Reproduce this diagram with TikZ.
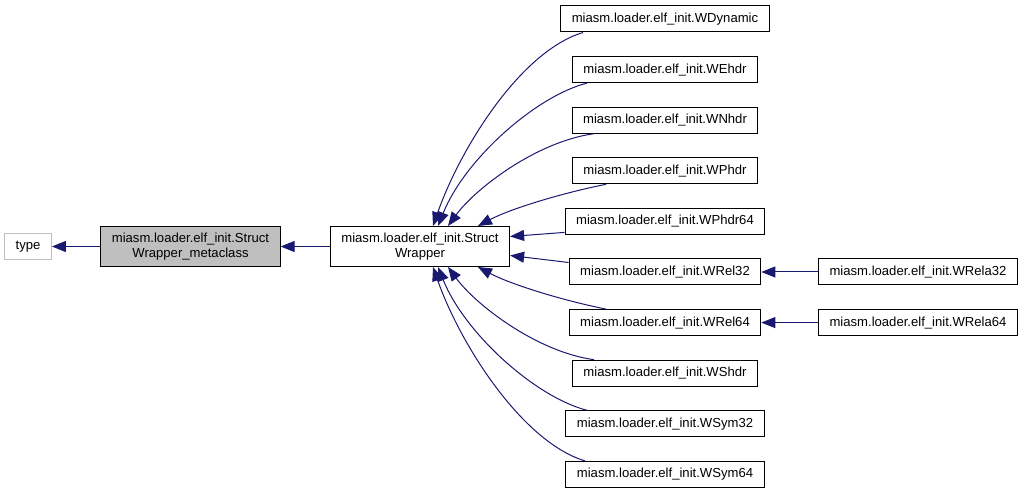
\documentclass[tikz,border=0pt]{standalone}
\usepackage{fontspec}
\setmainfont{Liberation Sans}
\usetikzlibrary{positioning,arrows.meta}

\definecolor{edgeblue}{HTML}{191970}
\definecolor{boxgray}{HTML}{BFBFBF}

\tikzset{
  cls/.style={draw=black, line width=1pt, rectangle, inner xsep=11pt, inner ysep=0pt,
    minimum height=26pt, font=\fontsize{13.1pt}{15pt}\selectfont},
  inh/.style={draw=edgeblue, line width=1pt, -{Triangle[length=14pt,width=11pt]}},
}

\begin{document}
\begin{tikzpicture}[x=1pt,y=1pt,on grid,node distance=50.6pt]
  \useasboundingbox (0,0) rectangle (1023,493);

  % left part of the hierarchy
  \node[cls,draw=boxgray] (type)  at (28,246.5) {type};
  \node[cls,fill=boxgray,align=center,minimum height=40pt] (meta) [right=162.5pt of type]
       {miasm.loader.elf\_init.Struct\\Wrapper\_metaclass};
  \node[cls,align=center,minimum height=40pt] (wrapper) [right=229.5pt of meta]
       {miasm.loader.elf\_init.Struct\\Wrapper};

  % derived classes
  \node[cls] (WDynamic) at (665,474)         {miasm.loader.elf\_init.WDynamic};
  \node[cls] (WEhdr)    [below=of WDynamic]  {miasm.loader.elf\_init.WEhdr};
  \node[cls] (WNhdr)    [below=of WEhdr]     {miasm.loader.elf\_init.WNhdr};
  \node[cls] (WPhdr)    [below=of WNhdr]     {miasm.loader.elf\_init.WPhdr};
  \node[cls] (WPhdr64)  [below=of WPhdr]     {miasm.loader.elf\_init.WPhdr64};
  \node[cls] (WRel32)   [below=of WPhdr64]   {miasm.loader.elf\_init.WRel32};
  \node[cls] (WRel64)   [below=of WRel32]    {miasm.loader.elf\_init.WRel64};
  \node[cls] (WShdr)    [below=of WRel64]    {miasm.loader.elf\_init.WShdr};
  \node[cls] (WSym32)   [below=of WShdr]     {miasm.loader.elf\_init.WSym32};
  \node[cls] (WSym64)   [below=of WSym32]    {miasm.loader.elf\_init.WSym64};
  \node[cls] (WRela32)  [right=253pt of WRel32] {miasm.loader.elf\_init.WRela32};
  \node[cls] (WRela64)  [right=253pt of WRel64] {miasm.loader.elf\_init.WRela64};

  % inheritance arrows
  \draw[inh] (meta.west) -- (type.east);
  \draw[inh] (wrapper.west) -- (meta.east);
  \draw[inh] (WRela32.west) -- (WRel32.east);
  \draw[inh] (WRela64.west) -- (WRel64.east);

  \draw[inh] ([xshift=-82pt]WDynamic.south) .. controls +(-63,-19) and +(27,77) .. ([xshift=13pt]wrapper.north);
  \draw[inh] ([xshift=-78pt]WEhdr.south) .. controls +(-51,-13) and +(27,67) .. ([xshift=18pt]wrapper.north);
  \draw[inh] ([xshift=-71pt]WNhdr.south) .. controls +(-58,-8) and +(27,37) .. ([xshift=28pt]wrapper.north);
  \draw[inh] ([xshift=-59pt]WPhdr.south) .. controls +(-45,-9) and +(32,17) .. ([xshift=58pt]wrapper.north);
  \draw[inh] ([yshift=-11pt]WPhdr64.west) -- ([yshift=10pt]wrapper.east);
  \draw[inh] ([yshift=9.5pt]WRel32.west) -- ([yshift=-9pt]wrapper.east);
  \draw[inh] ([xshift=-59pt]WRel64.north) .. controls +(-45,9) and +(32,-17) .. ([xshift=58pt]wrapper.south);
  \draw[inh] ([xshift=-71pt]WShdr.north) .. controls +(-58,8) and +(27,-37) .. ([xshift=28pt]wrapper.south);
  \draw[inh] ([xshift=-78pt]WSym32.north) .. controls +(-51,13) and +(27,-67) .. ([xshift=18pt]wrapper.south);
  \draw[inh] ([xshift=-80pt]WSym64.north) .. controls +(-63,19) and +(27,-77) .. ([xshift=13pt]wrapper.south);
\end{tikzpicture}
\end{document}
